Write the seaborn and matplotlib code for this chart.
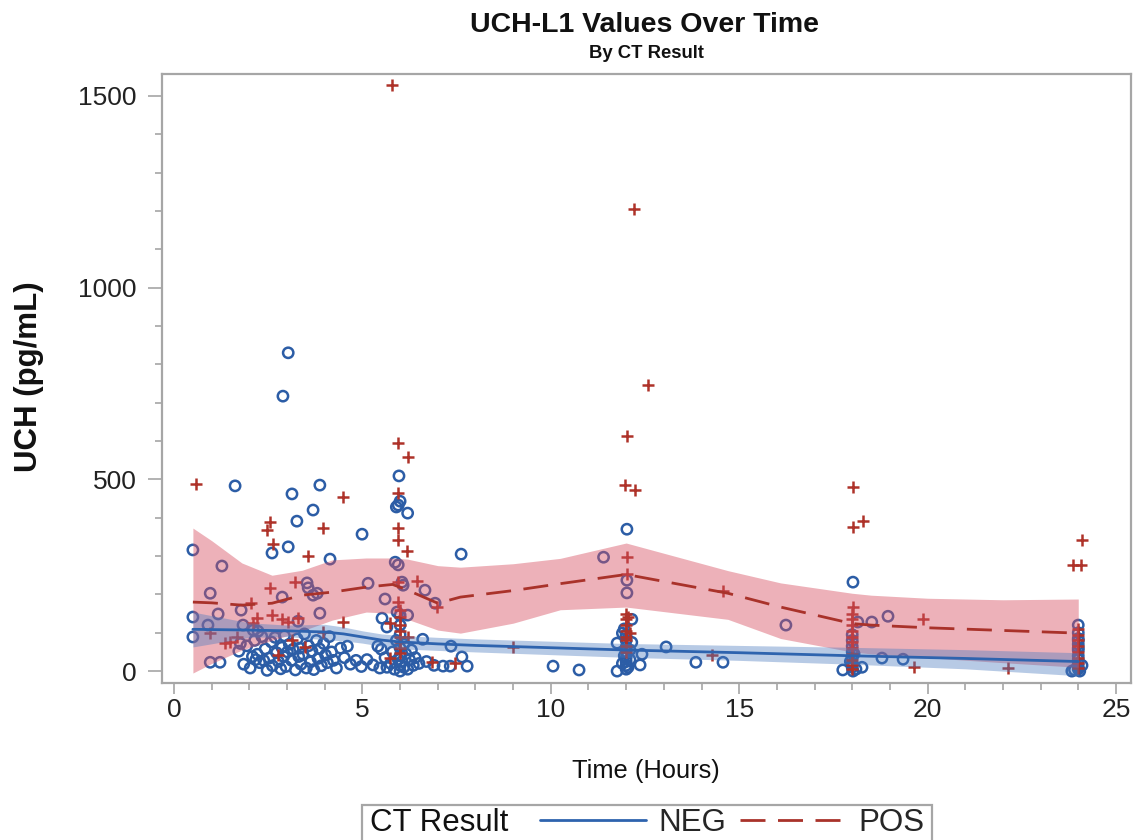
import numpy as np
import pandas as pd
import matplotlib
matplotlib.use("Agg")
import matplotlib.pyplot as plt
import seaborn as sns
from matplotlib.lines import Line2D
from matplotlib.patches import Rectangle
from matplotlib.ticker import MultipleLocator

# ---------------- data ----------------
neg_time = [
    3.03, 2.89, 1.62, 3.13, 3.87, 3.69, 3.26, 0.50, 2.60, 3.03,
    4.14, 1.27, 0.96, 2.87, 3.53, 3.56, 3.80, 3.69, 3.87, 0.50,
    1.17, 1.78, 0.50, 0.90, 1.83, 2.10, 2.23, 3.29, 0.96, 1.22,
    1.72, 1.85, 1.93, 2.02, 2.08, 2.14, 2.21, 2.27, 2.33, 2.38,
    2.42, 2.47, 2.53, 2.58, 2.61, 2.68, 2.72, 2.77, 2.83, 2.86,
    2.93, 2.97, 3.01, 3.06, 3.12, 3.16, 3.22, 3.27, 3.31, 3.37,
    3.42, 3.46, 3.51, 3.57, 3.62, 3.66, 3.71, 3.78, 3.82, 3.86,
    3.91, 3.97, 4.02, 4.07, 4.12, 4.18, 4.23, 4.31, 4.42, 4.52,
    4.68, 4.83, 4.97, 5.12, 5.28, 5.46, 2.17, 3.33, 2.91, 1.76,
    4.99, 7.62, 5.15, 5.87, 5.95, 6.05, 6.08, 5.60, 6.66, 6.93,
    5.52, 5.65, 5.92, 6.00, 6.20, 6.60, 7.35, 4.60, 5.41, 5.50,
    7.64, 7.78, 7.14, 7.33, 5.97, 6.00, 5.90, 5.95, 6.20, 6.00,
    5.75, 5.80, 5.85, 5.90, 5.95, 6.00, 6.00, 6.00, 6.00, 6.00,
    6.05, 6.10, 6.10, 6.15, 6.20, 6.25, 6.30, 6.35, 6.40, 6.50,
    5.60, 5.65, 6.70, 6.90, 12.02, 11.40, 12.02, 12.02, 12.15, 11.90,
    11.76, 13.06, 12.42, 13.85, 12.37, 11.76, 10.75, 14.57, 10.06, 12.00,
    12.00, 12.00, 12.00, 12.00, 12.00, 12.00, 12.00, 12.05, 12.10, 11.95,
    12.10, 11.90, 12.15, 11.95, 18.02, 18.52, 18.95, 18.15, 18.79, 19.35,
    17.75, 18.02, 18.26, 16.24, 18.00, 18.00, 18.00, 18.00, 18.00, 18.00,
    18.00, 18.10, 17.95, 18.05, 23.83, 24.04, 24.00, 24.00, 24.00, 24.00,
    24.00, 24.00, 24.00, 24.00, 24.00, 24.00, 24.00, 23.90, 24.10, 24.00,
]
neg_uch = [
    830, 717, 483, 462, 485, 420, 391, 316, 308, 324,
    292, 274, 203, 193, 230, 217, 203, 198, 151, 141,
    149, 159, 89, 120, 120, 107, 104, 130, 23, 23,
    52, 18, 66, 8, 38, 80, 44, 22, 90, 28,
    58, 2, 34, 76, 14, 88, 48, 25, 6, 62,
    92, 12, 50, 70, 28, 57, 3, 84, 38, 18,
    44, 97, 8, 66, 24, 52, 4, 80, 33, 58,
    14, 72, 42, 22, 90, 50, 28, 8, 60, 35,
    18, 28, 12, 30, 16, 8, 30, 60, 38, 72,
    357, 305, 229, 284, 277, 232, 224, 188, 211, 177,
    138, 115, 154, 146, 146, 83, 65, 65, 65, 57,
    37, 13, 13, 13, 509, 443, 428, 433, 412, 120,
    20, 50, 5, 80, 30, 0, 15, 40, 60, 95,
    25, 10, 70, 45, 5, 30, 55, 15, 35, 20,
    35, 10, 25, 15, 370, 297, 237, 204, 135, 99,
    73, 63, 44, 23, 16, 0, 3, 23, 13, 5,
    15, 25, 35, 50, 62, 80, 95, 10, 30, 40,
    55, 20, 75, 110, 232, 128, 143, 128, 34, 31,
    3, 0, 10, 120, 10, 20, 35, 50, 65, 80,
    95, 5, 25, 45, 0, 0, 120, 100, 80, 5,
    10, 20, 30, 40, 55, 70, 85, 3, 15, 60,
]

pos_time = [
    5.79, 12.20, 12.58, 12.02, 11.97, 12.23, 12.02, 12.02, 14.57, 14.28,
    18.02, 18.02, 18.29, 18.02, 19.88, 19.64, 22.13, 24.10, 23.86, 24.07,
    0.58, 2.55, 2.47, 3.95, 2.63, 3.56, 2.55, 3.21, 2.04, 2.20,
    2.10, 2.60, 2.87, 3.03, 3.29, 0.96, 1.35, 1.49, 1.67, 3.13,
    3.48, 2.76, 3.95, 4.49, 4.49, 5.95, 6.21, 5.95, 5.95, 5.95,
    6.18, 6.45, 6.98, 5.73, 5.73, 6.85, 7.46, 5.95, 5.95, 6.20,
    9.00, 6.00, 6.00, 6.00, 6.00, 6.00, 6.00, 6.00, 6.00, 12.00,
    12.00, 12.00, 12.00, 12.00, 12.00, 12.00, 12.05, 12.10, 18.00, 18.00,
    18.00, 18.00, 18.00, 18.00, 18.00, 18.00, 18.00, 18.00, 18.00, 24.00,
    24.00, 24.00, 24.00, 24.00, 24.00, 24.00, 24.00, 12.00,
]
pos_uch = [
    1529, 1205, 746, 613, 485, 472, 297, 253, 209, 42,
    480, 376, 391, 167, 136, 10, 8, 342, 276, 276,
    488, 389, 368, 373, 331, 300, 217, 232, 177, 138,
    125, 146, 136, 128, 138, 99, 73, 76, 89, 81,
    63, 42, 102, 454, 128, 595, 558, 464, 373, 342,
    313, 235, 167, 125, 34, 23, 21, 232, 180, 89,
    63, 160, 140, 120, 105, 90, 75, 60, 47, 150,
    135, 120, 105, 90, 80, 65, 140, 100, 150, 135,
    120, 105, 90, 75, 60, 45, 30, 15, 5, 110,
    95, 80, 65, 50, 35, 20, 8, 50,
]

# smoothed fits and confidence limits
neg_fit_time = [0.5, 2.0, 3.0, 4.0, 4.5, 5.0, 5.5, 6.0, 7.0, 8.0, 10, 12, 15, 18, 21, 24]
neg_fit = [109, 107, 105, 102, 97, 89, 81, 76, 71, 67, 61, 55, 48, 40, 33, 25]
neg_upper = [154, 126, 120, 122, 115, 105, 97, 93, 88, 84, 78, 72, 67, 62, 56, 48]
neg_lower = [63, 88, 90, 82, 79, 73, 65, 58, 54, 50, 43, 36, 28, 18, 6, -12]

pos_fit_time = [0.5, 1.0, 1.8, 2.6, 3.4, 4.2, 5.1, 5.8, 6.2, 7.0, 7.6, 9.0, 10.25, 12.0,
                14.7, 16.1, 18.0, 18.5, 20, 22, 24]
pos_fit = [180, 178, 172, 177, 198, 206, 219, 226, 211, 177, 193, 210, 228, 252,
           203, 167, 124, 120, 113, 106, 99]
pos_upper = [373, 340, 282, 250, 263, 290, 295, 295, 292, 275, 271, 280, 294, 334,
             262, 230, 203, 198, 190, 186, 188]
pos_lower = [-5, 20, 55, 80, 105, 133, 154, 151, 135, 107, 99, 125, 160, 167,
             135, 85, 50, 45, 35, 22, 10]

group_title = "CT Result"
group_labels = ["NEG", "POS"]

# ---------------- style ----------------
BLUE = "#2C5DA6"
RED = "#AE3229"
BLUE_LINE = "#2E63AE"
RED_LINE = "#A9322A"
GRAY = "#A6A6A6"

sns.set_style("white")
plt.rcParams["font.family"] = ["Liberation Sans", "DejaVu Sans"]

W, H = 1138, 840
fig = plt.figure(figsize=(W / 100, H / 100), dpi=100)
left, right, top, bottom = 162, 1131, 74, 683
ax = fig.add_axes([left / W, 1 - bottom / H, (right - left) / W, (bottom - top) / H])

neg_df = pd.DataFrame({"Time": neg_time, "UCH": neg_uch})
pos_df = pd.DataFrame({"Time": pos_time, "UCH": pos_uch})

sns.scatterplot(data=neg_df, x="Time", y="UCH", ax=ax, marker="o", s=55,
                facecolor="none", edgecolor=BLUE, linewidth=1.8, zorder=2, legend=False)
sns.scatterplot(data=pos_df, x="Time", y="UCH", ax=ax, marker="+", s=85,
                color=RED, linewidth=1.8, zorder=2, legend=False)

ax.fill_between(pos_fit_time, pos_lower, pos_upper, color="#D64F60", alpha=0.44,
                lw=0, zorder=3)
ax.fill_between(neg_fit_time, neg_lower, neg_upper, color="#4C7BBF", alpha=0.40,
                lw=0, zorder=3)

sns.lineplot(x=neg_fit_time, y=neg_fit, ax=ax, color=BLUE_LINE, lw=2,
             sort=False, estimator=None, zorder=4)
sns.lineplot(x=pos_fit_time, y=pos_fit, ax=ax, color=RED_LINE, lw=2,
             linestyle=(0, (9, 4.5)), sort=False, estimator=None, zorder=4)

ax.set_xlim(-0.32, 25.4)
ax.set_ylim(-31, 1557)
ax.set_xticks([0, 5, 10, 15, 20, 25])
ax.set_yticks([0, 500, 1000, 1500])
ax.xaxis.set_minor_locator(MultipleLocator(1))
ax.yaxis.set_minor_locator(MultipleLocator(100))
ax.tick_params(axis="both", which="both", direction="out", color=GRAY, width=1.2,
               labelsize=19, labelcolor="#222222")
ax.tick_params(axis="y", which="major", length=10, pad=8, left=True)
ax.tick_params(axis="y", which="minor", length=5, left=True)
ax.tick_params(axis="x", which="major", length=8, pad=3, bottom=True)
ax.tick_params(axis="x", which="minor", length=5, bottom=True)
for sp in ax.spines.values():
    sp.set_visible(True)
    sp.set_color(GRAY)
    sp.set_linewidth(1.6)
ax.set_xlabel("")
ax.set_ylabel("")

fig.text(646 / W, 1 - 771 / H, "Time (Hours)", ha="center", va="center", fontsize=18.4,
         color="#111111")
fig.text(29 / W, 1 - 377 / H, "UCH (pg/mL)", ha="center", va="center", rotation=90,
         fontsize=22.5, fontweight="bold", color="#111111")
fig.text(645 / W, 1 - 25 / H, "UCH-L1 Values Over Time", ha="center", va="center",
         fontsize=20.5, fontweight="bold", color="#111111")
fig.text(646 / W, 1 - 53 / H, "By CT Result", ha="center", va="center",
         fontsize=13.3, fontweight="bold", color="#111111")

# legend
fig.patches.append(Rectangle((362 / W, -0.05), (932 - 362) / W, 0.05 + 1 - 805 / H,
                             transform=fig.transFigure, fill=False, edgecolor=GRAY,
                             lw=1.6))
fig.text(370 / W, 1 - 823 / H, group_title, ha="left", va="center", fontsize=22.5,
         color="#111111")
handles = [Line2D([], [], color=BLUE_LINE, lw=2),
           Line2D([], [], color=RED_LINE, lw=2, linestyle=(0, (9, 4.5)))]
fig.legend(handles=handles, labels=group_labels, loc="center left",
           bbox_to_anchor=(540 / W, 1 - 823 / H), ncol=2, frameon=False, fontsize=22.5,
           handlelength=3.4, handletextpad=0.38, columnspacing=0.45, borderpad=0,
           borderaxespad=0)

fig.savefig("out.png", dpi=100)
